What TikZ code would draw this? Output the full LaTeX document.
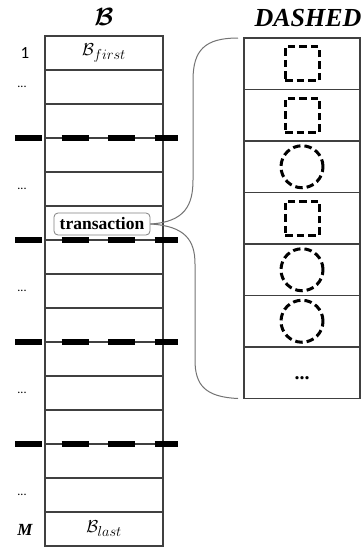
\documentclass[tikz,border=0pt]{standalone}
\usepackage{amsmath}
\usepackage{amssymb}
\usepackage{bm}
\usepackage{fontspec}
\setmainfont{Liberation Serif}
\newfontfamily\numfont{Carlito}
\usetikzlibrary{positioning}

\begin{document}
\begin{tikzpicture}[x=1pt, y=-1pt,
		rowline/.style={draw=black!75, line width=1.3pt},
		sepline/.style={line width=5.5pt, dash pattern=on 27pt off 19.5pt},
		cell/.style={rowline, minimum width=116pt, minimum height=51.5pt, inner sep=0pt, outer sep=0pt},
		dsquare/.style={draw, line width=3pt, dash pattern=on 7.5pt off 4pt, minimum size=34pt, inner sep=0pt},
		dcircle/.style={dsquare, circle, minimum size=42pt},
		brace/.style={draw=black!55, line width=1pt}]
				\useasboundingbox (0,0) rectangle (363,549);
				% left column B
				\draw[rowline] (45,36) rectangle (163,546);
				\foreach \i in {1,...,14} {
					\draw[rowline] (45,36+34*\i) -- (163,36+34*\i);
				}
				\foreach \j in {3,6,9,12} {
					\draw[sepline] (15,36+34*\j) -- (178,36+34*\j);
				}
				\node (hb) at (104,17) {\fontsize{26}{26}\selectfont$\bm{\mathcal{B}}$};
				\node (bfirst) at (104,53) {\fontsize{19}{19}\selectfont$\mathcal{B}_{first}$};
				\node (blast) at (104,529) {\fontsize{19}{19}\selectfont$\mathcal{B}_{last}$};
				\node (n1) at (25,53) {\numfont\fontsize{17}{17}\selectfont 1};
				\node (nm) at (25,530) {\fontsize{17}{17}\selectfont\bfseries\itshape M};
				\foreach \r in {2,5,8,11,14} {
					\node (dots\r) at (22,19+34*\r) {\numfont\fontsize{12}{12}\selectfont ...};
				}
				\node[draw=black!50, rounded corners=4pt, fill=white, line width=0.8pt,
					minimum width=96pt, minimum height=22pt, inner sep=0pt,
					font=\bfseries\fontsize{17.5}{17.5}\selectfont] (tx) at (102,224) {transaction};
				% right column DASHED
				\node (hd) at (308,18) {\fontsize{26}{26}\selectfont\bfseries\itshape DASHED};
				\node[cell] (r1) at (302,63.75) {};
				\foreach \k [remember=\k as \p (initially 1)] in {2,...,7} {
					\node[cell, below=0pt of r\p] (r\k) {};
				}
				\foreach \s [count=\k] in {dsquare,dsquare,dcircle,dsquare,dcircle,dcircle} {
					\node[\s] (m\k) at (r\k) {};
				}
				\node (more) at (302,378) {\bfseries\fontsize{20}{20}\selectfont ...};
				% brace
				\draw[brace] (tx.east) .. controls (185,222) and (193,205) .. (193,180) -- (193,80)
					.. controls (193,50) and (205,38) .. ([xshift=-6pt]r1.north west);
				\draw[brace] (tx.east) .. controls (185,226) and (195,240) .. (195,264) -- (195,360)
					.. controls (195,385) and (205,397) .. ([xshift=-6pt]r7.south west);
			\end{tikzpicture}
\end{document}
